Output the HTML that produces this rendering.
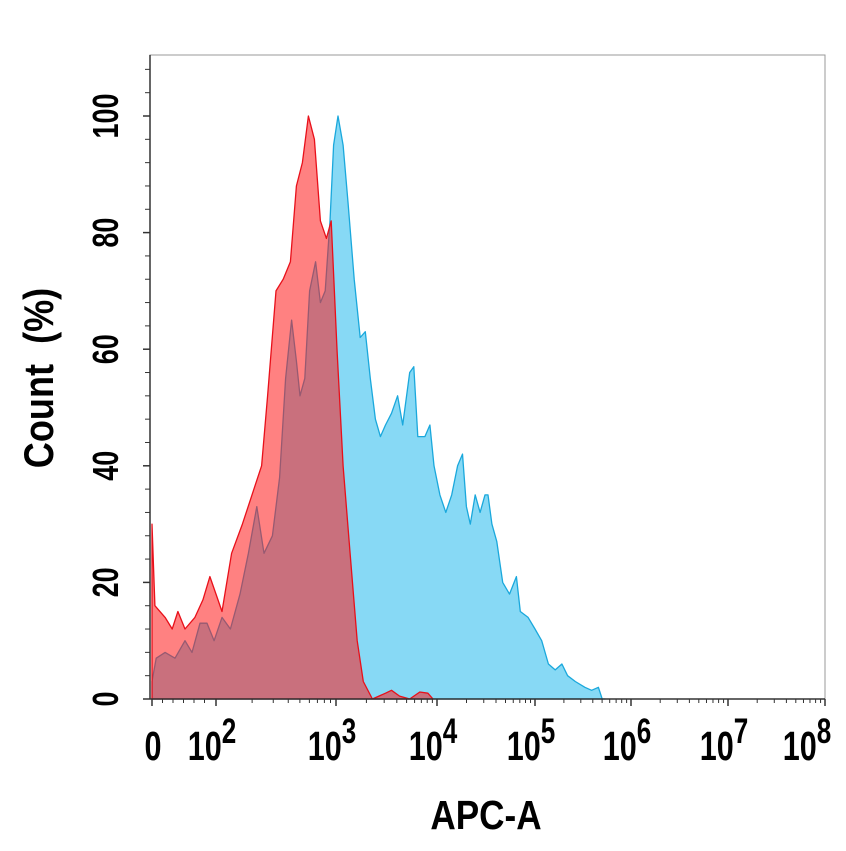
<!DOCTYPE html>
<html><head><meta charset="utf-8"><style>
html,body{margin:0;padding:0;background:#fff;}
svg{display:block;font-family:"Liberation Sans",Arial,sans-serif;}
</style></head><body>
<svg id="chart" width="846" height="851" viewBox="0 0 846 851" xmlns="http://www.w3.org/2000/svg">
<g id="plot"></g>
</svg>
<script>
const redX=[0,0.09,0.41,0.63,0.81,1.03,1.34,1.59,1.81,2.0,2.05,2.13,2.22,2.30,2.38,2.43,2.5,2.56,2.62,2.67,2.72,2.77,2.82,2.87,2.92,2.96,3.01,3.07,3.14,3.21,3.27,3.36,3.49,3.55,3.63,3.73,3.83,3.91,3.96];
const redY=[30,16,14,12,15,12,14,17,21,18,15,25,30,35,40,52,70,72,75,88,92,100,96,82,79,82,60,40,25,10,3,0,1,1.5,0.5,0,1.2,1,0];
const blueX=[0,0.13,0.41,0.72,1.03,1.25,1.5,1.72,1.94,2.05,2.12,2.2,2.27,2.34,2.4,2.47,2.53,2.58,2.63,2.67,2.7,2.74,2.78,2.83,2.87,2.91,2.95,2.98,3.02,3.07,3.12,3.18,3.24,3.29,3.34,3.39,3.44,3.49,3.55,3.61,3.66,3.73,3.77,3.81,3.88,3.93,3.97,4.03,4.09,4.15,4.21,4.26,4.3,4.34,4.39,4.44,4.49,4.52,4.56,4.61,4.67,4.74,4.81,4.85,4.93,5.0,5.07,5.14,5.21,5.28,5.34,5.42,5.52,5.59,5.66,5.7,5.73];
const blueY=[3,7,8,7,10,8,13,13,10,14,12,18,25,33,25,28,38,55,65,58,52,55,70,75,68,70,82,95,100,95,85,72,62,63,55,48,45,47,49,52,47,56,57,45,45,47,40,35,32,35,40,42,33,30,35,32,35,35,30,27,20,18,21,15,14,12,10,6,5,6,4,3,2,1.5,2,0,0];
const xTickVals=[0,2,3,4,5,6,7,8];
const xTickExp=["","2","3","4","5","6","7","8"];
const yTicks=[0,20,40,60,80,100];

const NS="http://www.w3.org/2000/svg";
const g=document.getElementById('plot');
const anchorD=[0,2,3,4,5,6,7,8];
const anchorP=[152,216,336,437,535,631,728,825];
function xs(d){
  for(let i=0;i<anchorD.length-1;i++){
    if(d<=anchorD[i+1]){const t=(d-anchorD[i])/(anchorD[i+1]-anchorD[i]);return anchorP[i]+t*(anchorP[i+1]-anchorP[i]);}
  }
  return anchorP[anchorP.length-1];
}
function ys(v){return 699-v*5.83;}
function mk(tag,attrs){const e=document.createElementNS(NS,tag);for(const k in attrs)e.setAttribute(k,attrs[k]);return e;}

const frame=mk('rect',{x:150,y:55,width:675,height:644,fill:'none',stroke:'#999','stroke-width':1});


g.appendChild(frame);

function area(X,Y,fill,stroke,name){
  let d='M'+xs(X[0])+','+ys(0);
  for(let i=0;i<X.length;i++)d+=' L'+xs(X[i]).toFixed(1)+','+ys(Y[i]).toFixed(1);
  d+=' L'+xs(X[X.length-1])+','+ys(0)+' Z';
  const p=mk('path',{d:d,fill:fill,stroke:stroke,'stroke-width':1.3,'stroke-linejoin':'round'});
  
  
  g.appendChild(p);
}
area(blueX,blueY,'#87d9f5','#1aa8dc','sample-histogram');
area(redX,redY,'rgba(255,25,25,0.55)','#e8101a','control-histogram');

const ax=mk('line',{x1:150,y1:699,x2:825,y2:699,stroke:'#333','stroke-width':1.5});


g.appendChild(ax);
const ay=mk('line',{x1:150,y1:55,x2:150,y2:699,stroke:'#333','stroke-width':1.5});


g.appendChild(ay);

for(let v=0;v<=108;v+=4){
  const major=v%20===0;
  const t=mk('line',{x1:major?143:145,y1:ys(v),x2:150,y2:ys(v),stroke:'#333','stroke-width':major?1.5:1});
  
  
  g.appendChild(t);
}
yTicks.forEach(v=>{
  const t=mk('text',{x:0,y:0,transform:'translate(118,'+ys(v)+') rotate(-90) scale(0.9,1.2)','text-anchor':'middle','font-size':30,'font-weight':'bold',fill:'#000'});
  t.textContent=v;
  
  
  g.appendChild(t);
});
for(let dec=3;dec<8;dec++){
  for(let m=2;m<10;m++){
    const x=xs(dec+Math.log10(m));
    const t=mk('line',{x1:x,y1:699,x2:x,y2:703,stroke:'#333','stroke-width':1});
    
    
    g.appendChild(t);
  }
}
for(let m=1;m<10;m++){
  const x=xs(2+Math.log10(m));
  const t=mk('line',{x1:x,y1:699,x2:x,y2:703,stroke:'#333','stroke-width':1});
  
  
  g.appendChild(t);
}
for(let k=1;k<6;k++){
  const x=152+k*10.5;
  const t=mk('line',{x1:x,y1:699,x2:x,y2:703,stroke:'#333','stroke-width':1});
  
  
  g.appendChild(t);
}
xTickVals.forEach((v,i)=>{
  const x=xs(v);
  const t=mk('line',{x1:x,y1:699,x2:x,y2:706,stroke:'#333','stroke-width':1.5});
  
  
  g.appendChild(t);
  let lx=x-4;
  if(i===xTickVals.length-1)lx=x-18;
  const tx=mk('text',{x:0,y:0,transform:'translate('+lx+',760) scale(0.9,1.2)','text-anchor':'middle','font-size':34,'font-weight':'bold',fill:'#000'});
  if(xTickExp[i]===''){tx.textContent='0';tx.setAttribute('transform','translate('+(x+1)+',760) scale(0.9,1.2)');}
  else{
    tx.textContent='10';
    const s=mk('tspan',{dy:-14,'font-size':29});
    s.textContent=xTickExp[i];
    tx.appendChild(s);
  }
  
  
  g.appendChild(tx);
});
const xt=mk('text',{x:0,y:0,transform:'translate(486,829) scale(0.95,1.1)','text-anchor':'middle','font-size':37,'font-weight':'bold',fill:'#000'});
xt.textContent='APC-A';


g.appendChild(xt);
const yt=mk('text',{x:0,y:0,transform:'translate(53,378) rotate(-90) scale(0.95,1.1)','text-anchor':'middle','font-size':38,'font-weight':'bold',fill:'#000'});
yt.textContent='Count\u00a0\u00a0(%)';


g.appendChild(yt);
</script>
</body></html>
